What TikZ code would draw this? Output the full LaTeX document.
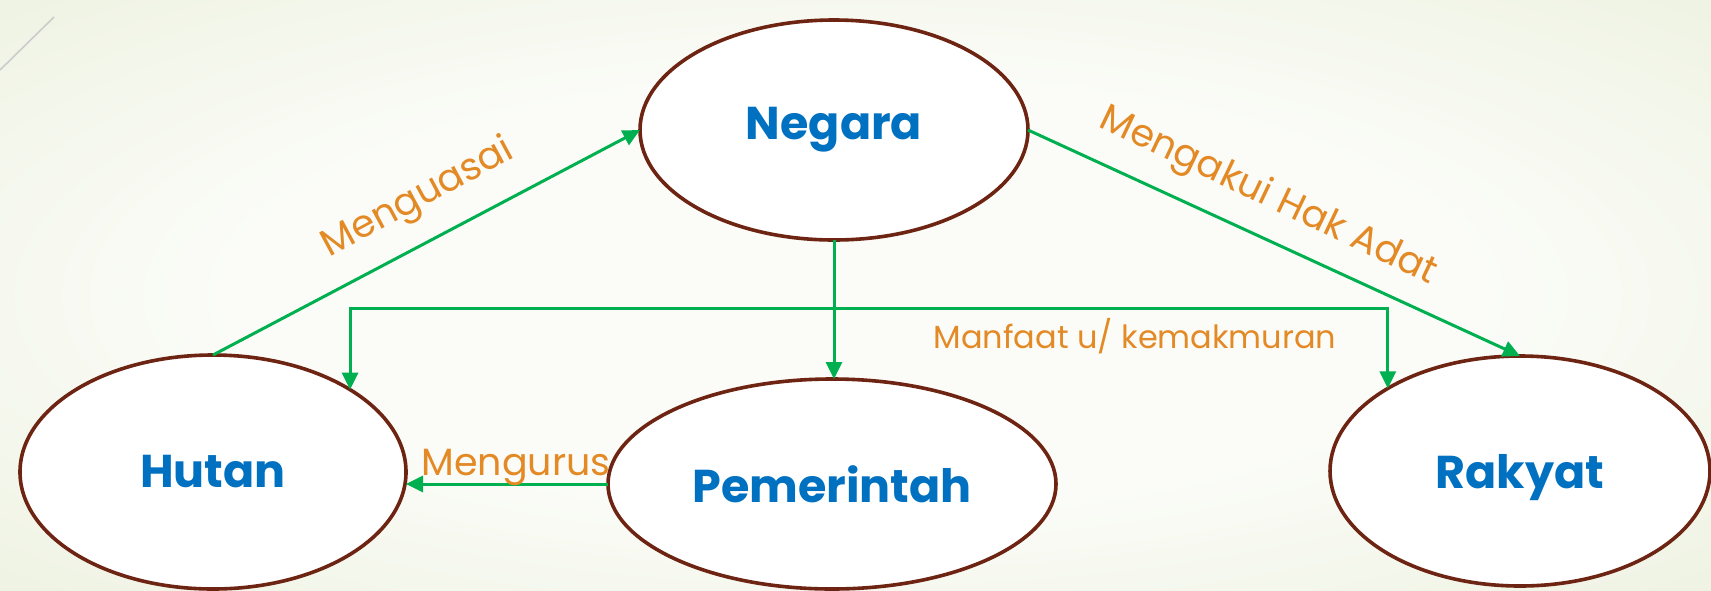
\documentclass[tikz,border=0pt]{standalone}
\usepackage{fontspec}
\setmainfont{Poppins}
\usetikzlibrary{arrows.meta,shapes.geometric,calc}
\definecolor{bord}{HTML}{6E2412}
\definecolor{grn}{HTML}{00B050}
\definecolor{blu}{HTML}{0070C0}
\definecolor{org}{HTML}{E38A26}
\definecolor{bgin}{HTML}{FBFCF8}
\definecolor{bgout}{HTML}{E4EBD0}
\pgfdeclareradialshading{bgshade}{\pgfpoint{0bp}{0bp}}{color(0bp)=(bgin); color(18bp)=(bgin); color(50bp)=(bgout)}
\begin{document}
\begin{tikzpicture}[x=0.5pt,y=-0.5pt,
  >={Triangle[length=8.5pt,width=8pt]},
  oval/.style={ellipse,draw=bord,line width=1.8pt,fill=white,inner sep=0pt,outer sep=0pt,text=blu,font=\fontsize{23}{28}\selectfont\bfseries},
  arr/.style={draw=grn,line width=1.5pt,->},
  lbl/.style={text=org,font=\fontsize{19}{23}\selectfont,inner sep=0pt}]
\shade[shading=bgshade] (0,0) rectangle (1711,590);
\useasboundingbox (0,0) rectangle (1711,590);
\draw[color=gray!40, line width=0.8pt] (0,70) -- (54,17);
\node[oval,minimum width=194pt,minimum height=110pt] (neg) at (834,130) {Negara};
\node[oval,minimum width=193pt,minimum height=117pt] (hut) at (213,472) {Hutan};
\node[oval,minimum width=224pt,minimum height=105pt] (pem) at (832,484) {Pemerintah};
\node[oval,minimum width=190pt,minimum height=115pt,text depth=0pt] (rak) at (1520,471) {Rakyat};
\coordinate (bar) at (834,308);
\draw[arr] (hut.north) -- (neg.west);
\draw[arr] (neg.south) -- (neg.south |- pem.north);
\draw[arr,<->] (hut.31) |- (bar) -| (rak.148);
\draw[arr] (neg.east) -- (rak.north);
\draw[arr] (pem.west) -- (pem.west -| hut.east);
\node[lbl,rotate=28.3] (l1) at (418,199) {Menguasai};
\node[lbl,rotate=-25.5] (l2) at (1268,197) {Mengakui Hak Adat};
\node[lbl,anchor=base] (l3) at (516,475) {Mengurus};
\node[lbl,anchor=base,font=\fontsize{16}{20}\selectfont] (l4) at (1135,348) {Manfaat u/ kemakmuran};
\end{tikzpicture}
\end{document}
